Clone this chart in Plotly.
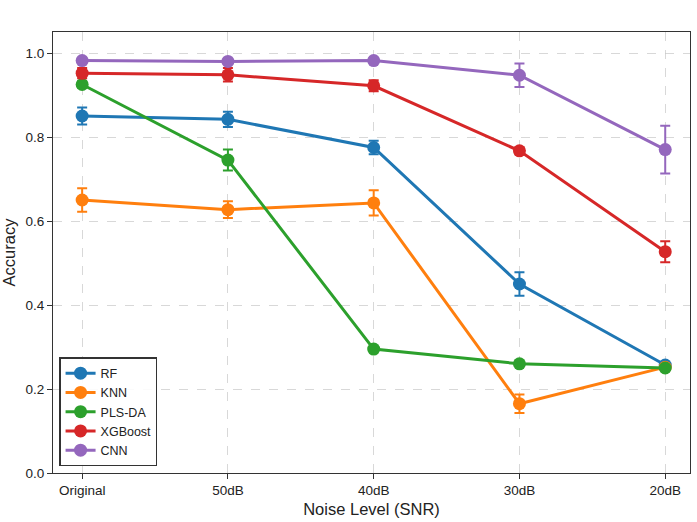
import plotly.graph_objects as go

noise_levels = ["Original", "50dB", "40dB", "30dB", "20dB"]
models = ["RF", "KNN", "PLS-DA", "XGBoost", "CNN"]
colors = ["#1f77b4", "#ff7f0e", "#2ca02c", "#d62728", "#9467bd"]

rf_acc = [0.850, 0.842, 0.775, 0.450, 0.257]
rf_err = [0.020, 0.018, 0.016, 0.028, 0.005]
knn_acc = [0.650, 0.627, 0.643, 0.165, 0.252]
knn_err = [0.028, 0.020, 0.030, 0.022, 0.005]
plsda_acc = [0.925, 0.745, 0.295, 0.260, 0.250]
plsda_err = [0.008, 0.025, 0.005, 0.004, 0.004]
xgb_acc = [0.952, 0.948, 0.922, 0.767, 0.527]
xgb_err = [0.012, 0.016, 0.013, 0.008, 0.025]
cnn_acc = [0.982, 0.980, 0.982, 0.947, 0.770]
cnn_err = [0.005, 0.006, 0.005, 0.028, 0.057]

accs = [rf_acc, knn_acc, plsda_acc, xgb_acc, cnn_acc]
errs = [rf_err, knn_err, plsda_err, xgb_err, cnn_err]

FONT = "Liberation Sans, Arial, sans-serif"

fig = go.Figure()
for name, color, acc, err in zip(models, colors, accs, errs):
    fig.add_trace(go.Scatter(
        x=noise_levels, y=acc, name=name, mode="lines+markers",
        line=dict(color=color, width=3),
        marker=dict(color=color, size=13),
        error_y=dict(type="data", array=err, visible=True, color=color,
                     thickness=2, width=5),
    ))

axis_common = dict(
    showline=True, linecolor="#333333", linewidth=1.2, mirror=True,
    ticks="outside", ticklen=5, tickwidth=1.2, tickcolor="#333333",
    showgrid=True, gridcolor="rgba(200,200,200,0.7)", griddash="dash", gridwidth=1,
    zeroline=False,
    tickfont=dict(family=FONT, size=13.5, color="#222222"),
    title_font=dict(family=FONT, size=16.5, color="#222222"),
)

fig.update_layout(
    width=697, height=522,
    margin=dict(l=53, r=7, t=32, b=49),
    plot_bgcolor="white", paper_bgcolor="white",
    font=dict(family=FONT, color="#222222"),
    xaxis=dict(title=dict(text="Noise Level (SNR)", standoff=6),
               type="category", range=[-0.2, 4.17], **axis_common),
    yaxis=dict(title=dict(text="Accuracy", standoff=6),
               range=[0, 1.05], tickvals=[0, 0.2, 0.4, 0.6, 0.8, 1.0],
               ticktext=["0.0", "0.2", "0.4", "0.6", "0.8", "1.0"], **axis_common),
    legend=dict(x=0.01, y=0.015, xanchor="left", yanchor="bottom",
                bgcolor="rgba(255,255,255,0.9)", bordercolor="#333333", borderwidth=1.2,
                font=dict(size=12.5, family=FONT),
                itemwidth=30, tracegroupgap=0),
    showlegend=True,
)

fig.write_html("out.html")
